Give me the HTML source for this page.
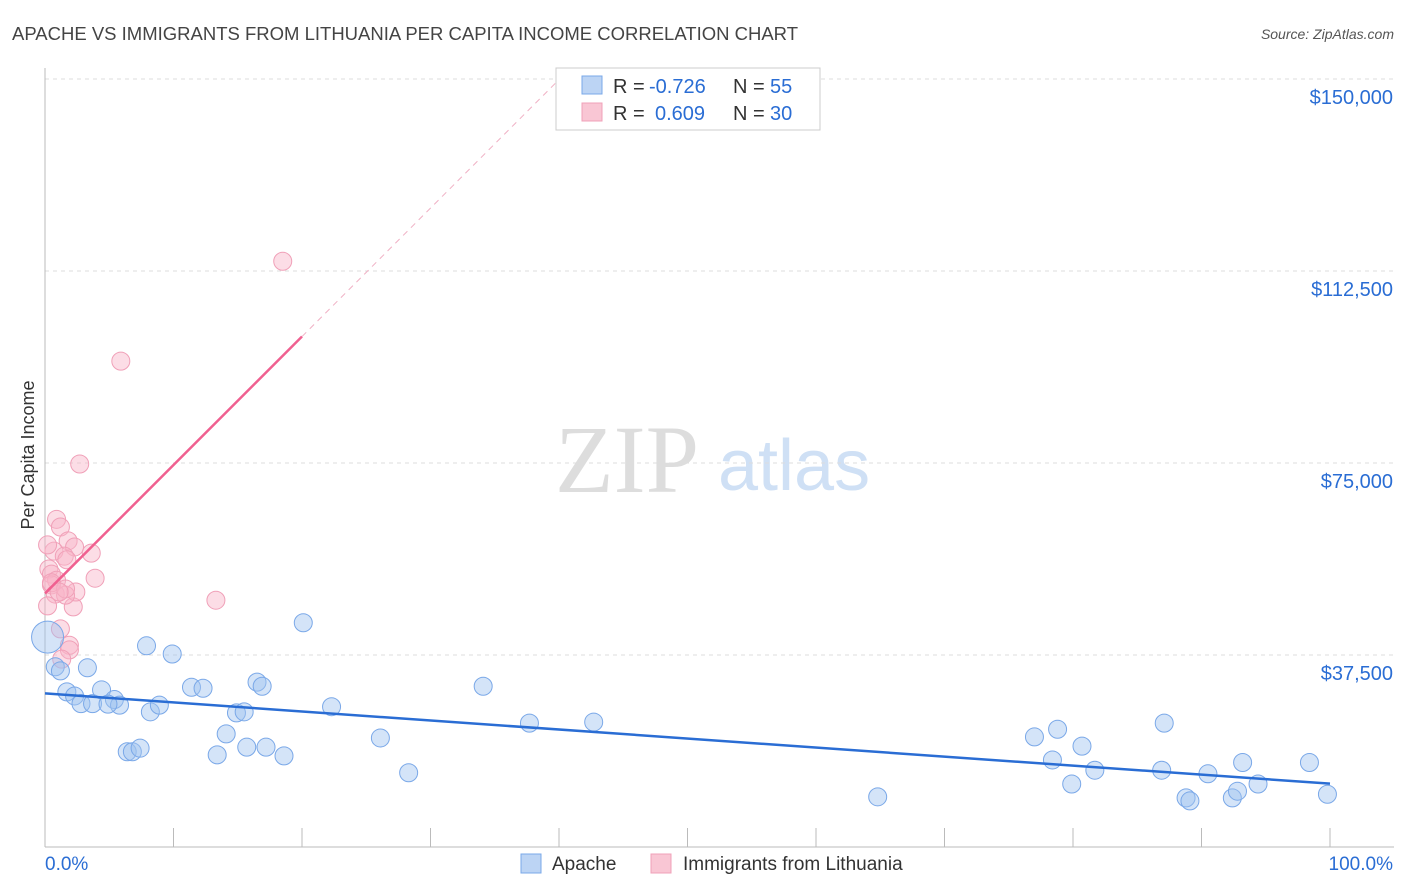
<!DOCTYPE html><html><head><meta charset="utf-8"><style>
body{margin:0;background:#fff;font-family:"Liberation Sans",sans-serif;}
</style></head><body>
<svg id="c" width="1406" height="892" style="display:block">
<text x="12" y="40" font-size="18.5" fill="#444">APACHE VS IMMIGRANTS FROM LITHUANIA PER CAPITA INCOME CORRELATION CHART</text>
<text x="1394" y="39" font-size="14" fill="#555" font-style="italic" text-anchor="end">Source: ZipAtlas.com</text>
<text x="555" y="492" font-size="96" fill="#ddd" font-family="Liberation Serif">ZIP</text>
<text x="718" y="490" font-size="72" fill="#cfe0f5">atlas</text>
<text transform="translate(34,455) rotate(-90)" font-size="18" fill="#333" text-anchor="middle">Per Capita Income</text>
<g id="grid"></g><g id="marks"></g>
<g>
<rect x="556" y="68" width="264" height="62" fill="#fff" stroke="#ccc"/>
<rect x="582" y="76" width="20" height="18" fill="#bcd4f4" stroke="#7aa8e8"/>
<rect x="582" y="103" width="20" height="18" fill="#f9c6d4" stroke="#f0a0b8"/>
<text x="613" y="93" font-size="20" fill="#333">R =</text>
<text x="649" y="93" font-size="20" fill="#2a6dd4">-0.726</text>
<text x="733" y="93" font-size="20" fill="#333">N =</text>
<text x="770" y="93" font-size="20" fill="#2a6dd4">55</text>
<text x="613" y="120" font-size="20" fill="#333">R =</text>
<text x="655" y="120" font-size="20" fill="#2a6dd4">0.609</text>
<text x="733" y="120" font-size="20" fill="#333">N =</text>
<text x="770" y="120" font-size="20" fill="#2a6dd4">30</text>
</g>
<g>
<rect x="521" y="854" width="20" height="19" fill="#bcd4f4" stroke="#7aa8e8"/>
<text x="552" y="870" font-size="19" fill="#333">Apache</text>
<rect x="651" y="854" width="20" height="19" fill="#f9c6d4" stroke="#f0a0b8"/>
<text x="683" y="870" font-size="19" fill="#333">Immigrants from Lithuania</text>
</g>
</svg>
<script>
const yTicks=[37500,75000,112500,150000];
const yTickLabels=["$37,500","$75,000","$112,500","$150,000"];
const apacheX=[0.8,1.2,3.3,1.7,2.3,2.8,3.7,4.4,5.4,5.8,4.9,7.9,9.9,8.2,8.9,6.4,6.8,7.4,11.4,12.3,13.4,14.1,14.9,15.5,15.7,16.5,16.9,17.2,18.6,20.1,22.3,26.1,28.3,34.1,37.7,42.7,64.8,77.0,78.4,78.8,79.9,80.7,81.7,86.9,87.1,88.8,89.1,90.5,92.4,92.8,93.2,94.4,98.4,99.8,0.2];
const apacheY=[35200,34400,35000,30300,29500,28000,28000,30700,28800,27700,27900,39300,37700,26400,27700,18600,18600,19300,31200,31000,18000,22100,26200,26400,19500,32200,31400,19500,17800,43800,27400,21300,14500,31400,24200,24400,9800,21500,17000,23000,12300,19700,15000,15000,24200,9600,9000,14300,9600,10900,16500,12300,16500,10300,41000];
const lithX=[18.5,5.9,2.7,0.9,1.2,0.7,1.8,2.3,1.5,1.7,3.6,0.3,0.5,0.9,0.5,0.8,0.2,3.9,2.2,2.4,1.6,13.3,1.2,1.9,1.9,0.5,1.6,1.1,1.3,0.2];
const lithY=[114400,94900,74800,64000,62500,57800,59800,58600,56800,56100,57400,54300,53300,52100,51200,49400,47100,52500,46900,49800,49200,48200,42600,39400,38500,51600,50400,49800,36700,59000];
const apacheSize=apacheX.map((_,i)=>i===54?16:9);
const X0=45,X1=1330,Y0=847,YK=192/37500;
const sx=p=>X0+p/100*(X1-X0), sy=v=>Y0-v*YK;
const NS="http://www.w3.org/2000/svg";
function mk(t,a,parent){const e=document.createElementNS(NS,t);for(const k in a)e.setAttribute(k,a[k]);parent.appendChild(e);return e;}
const g=document.getElementById('grid'),m=document.getElementById('marks');
yTicks.forEach((v,i)=>{
 const l=mk('line',{x1:45,x2:1394,y1:sy(v),y2:sy(v),stroke:'#ddd','stroke-dasharray':'4,4'},g);
 
 
 const t=mk('text',{x:1393,y:sy(v)+25,'font-size':20,fill:'#2a6dd4','text-anchor':'end'},g);t.textContent=yTickLabels[i];
 
 
});
mk('line',{x1:45,x2:45,y1:68,y2:847,stroke:'#bbb'},g);
mk('line',{x1:45,x2:1394,y1:847,y2:847,stroke:'#bbb'},g);
for(let i=0;i<=10;i++){const t=mk('line',{x1:sx(i*10),x2:sx(i*10),y1:828,y2:847,stroke:'#bbb'},g);
 
 }
let t1=mk('text',{x:45,y:870,'font-size':19,fill:'#2a6dd4'},g);t1.textContent='0.0%';


let t2=mk('text',{x:1393,y:870,'font-size':19,fill:'#2a6dd4','text-anchor':'end'},g);t2.textContent='100.0%';


lithX.forEach((x,i)=>{const c=mk('circle',{cx:sx(x),cy:sy(lithY[i]),r:9,fill:'rgba(248,180,200,0.45)',stroke:'#f0a0b8'},m);
 
 });
apacheX.forEach((x,i)=>{const c=mk('circle',{cx:sx(x),cy:sy(apacheY[i]),r:apacheSize[i],fill:'rgba(160,196,240,0.45)',stroke:'#7aa8e8'},m);
 
 });
function fit(xs,ys){const n=xs.length,mx=xs.reduce((a,b)=>a+b)/n,my=ys.reduce((a,b)=>a+b)/n;let sxy=0,sxx=0;xs.forEach((x,i)=>{sxy+=(x-mx)*(ys[i]-my);sxx+=(x-mx)**2});const b=sxy/sxx;return [my-b*mx,b];}
const [a1,b1]=fit(apacheX,apacheY);
let l1=mk('line',{x1:sx(0),y1:sy(a1),x2:sx(100),y2:sy(a1+b1*100),stroke:'#2a6dd4','stroke-width':2.5},m);


const [a2,b2]=fit(lithX,lithY);
const xe=20,xd=(150000-a2)/b2;
let l2=mk('line',{x1:sx(0),y1:sy(a2),x2:sx(xe),y2:sy(a2+b2*xe),stroke:'#f06090','stroke-width':2.5},m);


let l3=mk('line',{x1:sx(xe),y1:sy(a2+b2*xe),x2:sx(Math.min(xd,40)),y2:sy(a2+b2*Math.min(xd,40)),stroke:'#f0b0c4','stroke-width':1,'stroke-dasharray':'6,5'},m);


</script>
</body></html>
